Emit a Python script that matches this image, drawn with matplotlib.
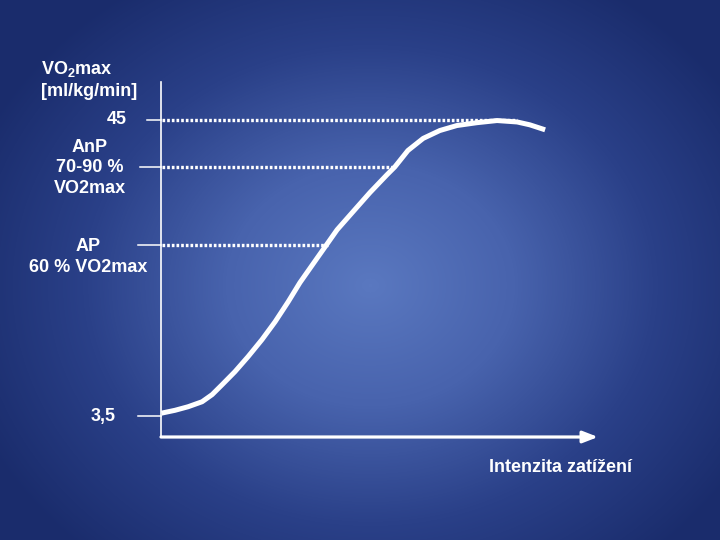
import numpy as np
import matplotlib.pyplot as plt
from matplotlib.colors import LinearSegmentedColormap

plt.rcParams['font.family'] = ['Liberation Sans', 'DejaVu Sans']
plt.rcParams['font.weight'] = 'bold'
plt.rcParams['mathtext.fontset'] = 'custom'
plt.rcParams['mathtext.rm'] = 'Liberation Sans:bold'
plt.rcParams['mathtext.default'] = 'rm'

# curve (intensity 0..100, VO2 in ml/kg/min)
intensity = [0.1, 3.2, 6.2, 9.4, 11.7, 14.0, 16.9, 19.9, 23.1, 26.1,
             29.1, 31.8, 35.7, 38.0, 40.3, 43.9, 47.8, 51.7, 53.5, 56.5,
             60.0, 63.8, 67.7, 72.3, 76.9, 81.5, 84.4, 87.9]
vo2 = [3.9, 4.3, 4.8, 5.5, 6.5, 7.9, 9.7, 11.8, 14.2, 16.7,
       19.5, 22.2, 25.6, 27.6, 29.6, 32.1, 34.8, 37.3, 38.4, 40.7,
       42.4, 43.5, 44.2, 44.6, 44.9, 44.7, 44.3, 43.6]

# reference levels: value, where the dotted line stops
levels = [45.0, 38.4, 27.5]
level_ends = [81.5, 53.5, 38.2]
tick_levels = [45.0, 38.4, 27.5, 3.5]
tick_starts = [-3.2, -4.8, -5.3, -5.3]

fig = plt.figure(figsize=(7.2, 5.4), dpi=100)

# radial blue background
bg = fig.add_axes([0, 0, 1, 1])
yy, xx = np.mgrid[0:540, 0:720]
r = np.sqrt(((xx - 370) / 430.0) ** 2 + ((yy - 285) / 360.0) ** 2)
cmap = LinearSegmentedColormap.from_list('bg', ['#5a78c0', '#4863ad', '#2a4088', '#1a2c6c'])
bg.imshow(np.clip(r, 0, 1), cmap=cmap, vmin=0, vmax=1, aspect='auto', extent=[0, 720, 540, 0])
bg.set_axis_off()

ax = fig.add_axes([161 / 720, 103 / 540, 437 / 720, 355 / 540])
ax.patch.set_alpha(0)
ax.set_xlim(0, 100)
ax.set_ylim(0.56, 50.3)
for s in ['top', 'right', 'bottom']:
    ax.spines[s].set_visible(False)
ax.spines['left'].set_color('white')
ax.spines['left'].set_linewidth(1.2)
ax.set_xticks([])
ax.set_yticks([])

# x axis with arrow
ax.annotate('', xy=(100, 0.56), xytext=(0, 0.56), xycoords='data',
            arrowprops=dict(arrowstyle='-|>,head_length=0.9,head_width=0.35',
                            color='white', lw=2.3, shrinkA=0, shrinkB=0),
            annotation_clip=False)

for lv, end in zip(levels, level_ends):
    ax.plot([0.3, end], [lv, lv], color='white', lw=2.4, ls=(0, (0.8, 0.6)),
            dash_capstyle='butt')

for lv, st in zip(tick_levels, tick_starts):
    ax.plot([st, 0], [lv, lv], color='white', lw=1.1, clip_on=False)

ax.plot(intensity, vo2, color='white', lw=3.6, solid_capstyle='butt',
        solid_joinstyle='round')

tkw = dict(color='white', fontsize=13, fontweight='bold')
fig.text(41 / 720, 1 - 69 / 540, r'VO$_2$max', ha='left', va='center', **tkw)
fig.text(41 / 720, 1 - 91 / 540, '[ml/kg/min]', ha='left', va='center', **tkw)
fig.text(127 / 720, 1 - 120 / 540, '45', ha='right', va='center', **tkw)
fig.text(90 / 720, 1 - 168 / 540, 'AnP\n70-90 %\nVO2max', ha='center', va='center',
         linespacing=1.3, **tkw)
fig.text(88 / 720, 1 - 257 / 540, 'AP\n60 % VO2max', ha='center', va='center',
         linespacing=1.3, **tkw)
fig.text(103 / 720, 1 - 416 / 540, '3,5', ha='center', va='center', **tkw)
fig.text(489 / 720, 1 - 468 / 540, 'Intenzita zatížení', ha='left', va='center', **tkw)

fig.savefig('out.png', dpi=100)
